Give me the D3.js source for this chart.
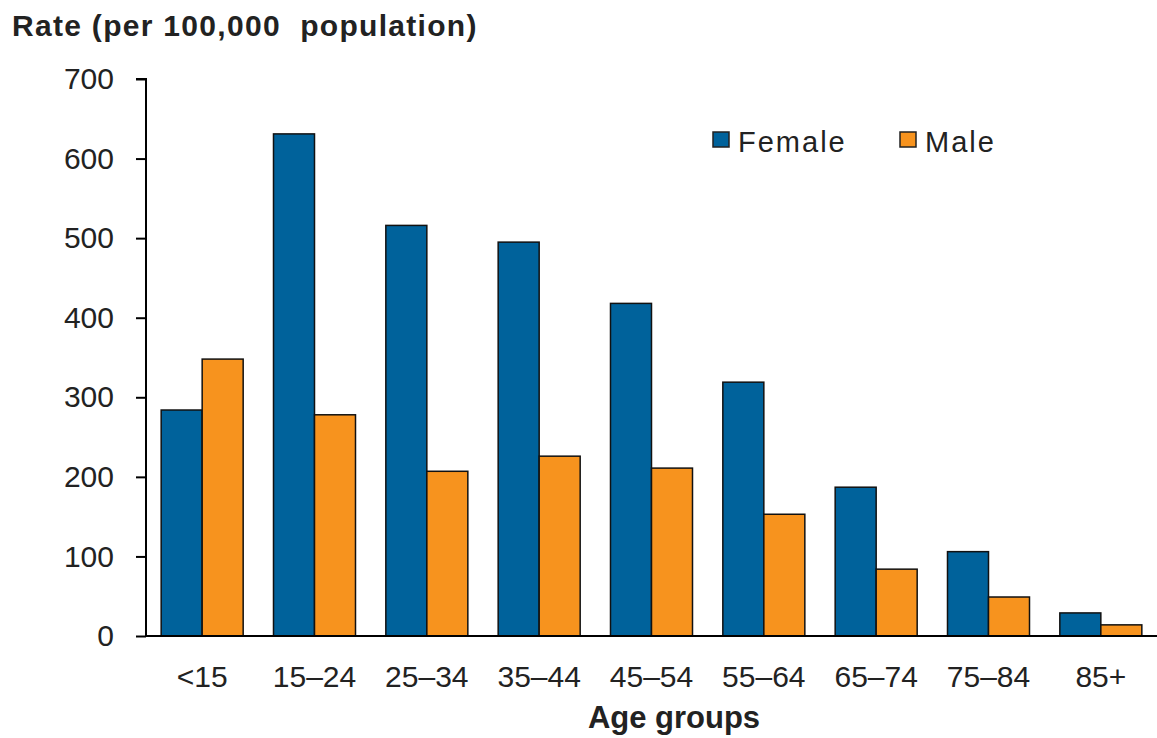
<!DOCTYPE html>
<html>
<head>
<meta charset="utf-8">
<script src="https://cdn.jsdelivr.net/npm/d3@7"></script>
<style>
  html, body { margin: 0; padding: 0; background: #fff; }
  svg { display: block; font-family: "Liberation Sans", Arial, sans-serif; }
</style>
</head>
<body>
<svg id="chart" width="1157" height="738"></svg>
<script>
const categories = ["<15", "15–24", "25–34", "35–44", "45–54", "55–64", "65–74", "75–84", "85+"];
const seriesNames = ["Female", "Male"];
const female = [284, 631, 516, 495, 418, 319, 187, 106, 29];
const male = [348, 278, 207, 226, 211, 153, 84, 49, 14];
const yTicks = [0, 100, 200, 300, 400, 500, 600, 700];
const colors = ["#00629b", "#f7931e"];

(function () {
const svg = d3.select("#chart");
const mLeft = 146, mRight = 1157, mTop = 79, mBottom = 636;

const x = d3.scaleBand().domain(categories).range([mLeft, mRight]).paddingInner(0.27).paddingOuter(0.135);
const xs = d3.scaleBand().domain(seriesNames).range([0, x.bandwidth()]);
const y = d3.scaleLinear().domain([0, 700]).range([mBottom, mTop]);

const rows = categories.map((c, i) => ({ cat: c, values: [female[i], male[i]] }));

// bars
const g = svg.append("g");
rows.forEach(r => {
  r.values.forEach((v, j) => {
    g.append("rect")
      .attr("x", x(r.cat) + xs(seriesNames[j]))
      .attr("y", y(v))
      .attr("width", xs.bandwidth())
      .attr("height", y(0) - y(v))
      .attr("fill", colors[j])
      .attr("stroke", "#111")
      .attr("stroke-width", 1.5);
  });
});

// y axis
const yAxis = d3.axisLeft(y).tickValues(yTicks).tickSize(10).tickPadding(22).tickFormat(d3.format("d"));
const ya = svg.append("g").attr("transform", `translate(${mLeft},0)`).call(yAxis);
ya.select(".domain").attr("stroke", "#000").attr("stroke-width", 2).attr("d", `M-10,${mTop}H0V${mBottom}`);
ya.selectAll(".tick line").attr("stroke", "#000").attr("stroke-width", 2);
ya.selectAll(".tick text").attr("font-size", 30).attr("fill", "#222").attr("font-family", "Liberation Sans, Arial, sans-serif");

// x axis
const xAxis = d3.axisBottom(x).tickSize(0).tickPadding(30);
const xa = svg.append("g").attr("transform", `translate(0,${mBottom})`).call(xAxis);
xa.select(".domain").attr("stroke", "#000").attr("stroke-width", 2).attr("d", `M${mLeft},0H${mRight}`);
xa.selectAll(".tick text").attr("font-size", 30).attr("fill", "#222").attr("font-family", "Liberation Sans, Arial, sans-serif");

// titles
svg.append("text").attr("x", 12).attr("y", 36)
  .attr("font-size", 30).attr("font-weight", "bold").attr("fill", "#222")
  .attr("letter-spacing", 1.3)
  .style("white-space", "pre")
  .text("Rate (per 100,000  population)");
svg.append("text").attr("x", 674).attr("y", 728).attr("text-anchor", "middle")
  .attr("font-size", 31).attr("font-weight", "bold").attr("fill", "#222")
  .text("Age groups");

// legend
const legendPos = [713, 900];
seriesNames.forEach((s, j) => {
  const lg = svg.append("g").attr("transform", `translate(${legendPos[j]},132)`);
  lg.append("rect").attr("width", 16).attr("height", 15).attr("fill", colors[j]).attr("stroke", "#222").attr("stroke-width", 1.5);
  lg.append("text").attr("x", 25).attr("y", 20).attr("font-size", 29).attr("letter-spacing", 2).attr("fill", "#222").text(s);
});
})();
</script>
</body>
</html>
